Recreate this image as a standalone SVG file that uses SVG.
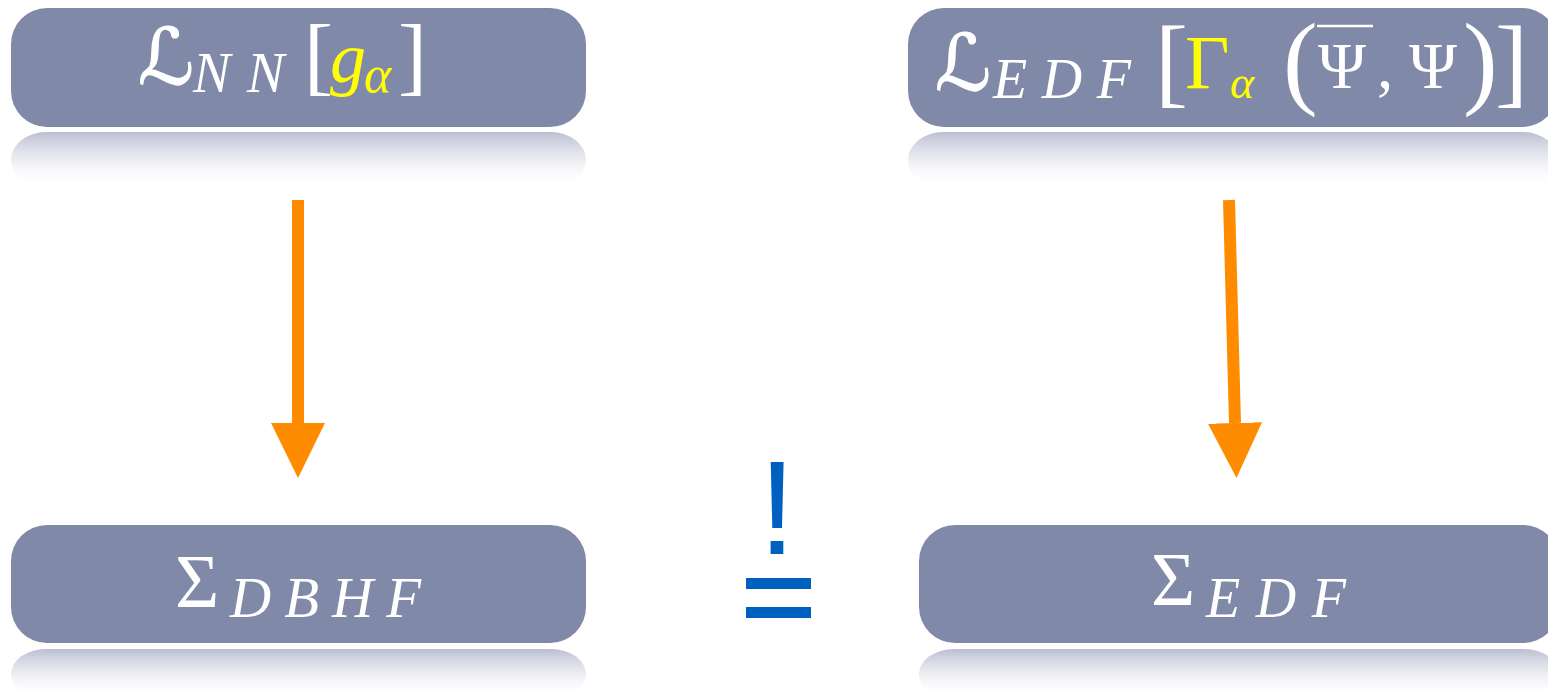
<svg xmlns="http://www.w3.org/2000/svg" width="1548" height="691" viewBox="0 0 1548 691">
  <style>
    .box { fill: #8189a8; }
    .refl { fill: url(#reflGrad); }
    .m { font-family: "Liberation Serif", "DejaVu Serif", serif; fill: #ffffff; }
    .it { font-style: italic; }
    .scr { font-family: "DejaVu Serif", "DejaVu Sans", serif; font-style: italic; fill: #ffffff; stroke: #ffffff; stroke-width: 1.2; }
    .hl { fill: #ffff00; }
    .shaft { stroke: #ff8c00; stroke-width: 12; fill: none; }
    .neq { fill: #0060c0; }
  </style>
  <defs>
    <linearGradient id="reflGrad" x1="0" y1="0" x2="0" y2="1">
      <stop offset="0" stop-color="#aeb3c9" stop-opacity="0.85"/>
      <stop offset="0.45" stop-color="#d6d9e4" stop-opacity="0.55"/>
      <stop offset="1" stop-color="#ffffff" stop-opacity="0"/>
    </linearGradient>
    <marker id="head" markerUnits="userSpaceOnUse" markerWidth="56" markerHeight="56" refX="0" refY="27" orient="auto">
      <path d="M0,0 L55,27 L0,54 Z" fill="#ff8c00"/>
    </marker>
  </defs>

  <rect width="1548" height="691" fill="#ffffff"/>

  <!-- top-left: L_NN[g_alpha] -->
  <g id="node-lnn">
    <rect class="refl" x="11" y="132" width="575" height="56" rx="35"/>
    <rect class="box" x="11" y="8" width="575" height="119" rx="36"/>
    <text class="scr" x="138" y="84" font-size="78">ℒ</text>
    <text class="m it" x="193" y="92" font-size="56">N</text>
    <text class="m it" x="247" y="92" font-size="56">N</text>
    <text class="m" x="304" y="84" font-size="87">[</text>
    <text class="m it hl" x="330" y="82" font-size="72">g</text>
    <text class="m it hl" x="364" y="92" font-size="52">α</text>
    <text class="m" x="398" y="84" font-size="87">]</text>
  </g>

  <!-- top-right: L_EDF[Gamma_alpha(Psibar, Psi)] -->
  <g id="node-ledf">
    <rect class="refl" x="908" y="132" width="650" height="56" rx="35"/>
    <rect class="box" x="908" y="8" width="650" height="119" rx="36"/>
    <text class="scr" x="935" y="90" font-size="78">ℒ</text>
    <text class="m it" x="993" y="98" font-size="56" textLength="138" lengthAdjust="spacing">EDF</text>
    <text class="m" x="1155" y="95" font-size="99">[</text>
    <text class="m hl" x="1185" y="88" font-size="77">Γ</text>
    <text class="m it hl" x="1230" y="98" font-size="46">α</text>
    <text class="m" x="1283" y="95" font-size="104">(</text>
    <line x1="1317" y1="26" x2="1373" y2="26" stroke="#ffffff" stroke-width="2.5"/>
    <text class="m" x="1318" y="88" font-size="65">Ψ</text>
    <text class="m" x="1377" y="88" font-size="65">,</text>
    <text class="m" x="1409" y="88" font-size="65">Ψ</text>
    <text class="m" x="1463" y="95" font-size="104">)</text>
    <text class="m" x="1495" y="95" font-size="99">]</text>
  </g>

  <!-- bottom-left: Sigma_DBHF -->
  <g id="node-sdbhf">
    <rect class="refl" x="11" y="649" width="575" height="50" rx="35"/>
    <rect class="box" x="11" y="525" width="575" height="118" rx="36"/>
    <text class="m" x="175" y="607" font-size="76">Σ</text>
    <text class="m it" x="230" y="617" font-size="57" textLength="191" lengthAdjust="spacing">DBHF</text>
  </g>

  <!-- bottom-right: Sigma_EDF -->
  <g id="node-sedf">
    <rect class="refl" x="919" y="649" width="640" height="50" rx="35"/>
    <rect class="box" x="919" y="525" width="640" height="118" rx="36"/>
    <text class="m" x="1151" y="605" font-size="76">Σ</text>
    <text class="m it" x="1206" y="617" font-size="56" textLength="140" lengthAdjust="spacing">EDF</text>
  </g>

  <!-- "should equal" sign between the bottom boxes -->
  <g id="node-equal">
    <text x="777" y="554" font-family="Liberation Sans, Arial, sans-serif" font-size="134" text-anchor="middle" class="neq">!</text>
    <rect class="neq" x="746" y="578" width="65" height="11"/>
    <rect class="neq" x="746" y="607" width="65" height="11"/>
  </g>

  <!-- arrows -->
  <g id="connectors">
    <line class="shaft" x1="298" y1="200" x2="298" y2="423" marker-end="url(#head)"/>
    <line class="shaft" x1="1229" y1="200" x2="1235" y2="423" marker-end="url(#head)"/>
  </g>
</svg>
